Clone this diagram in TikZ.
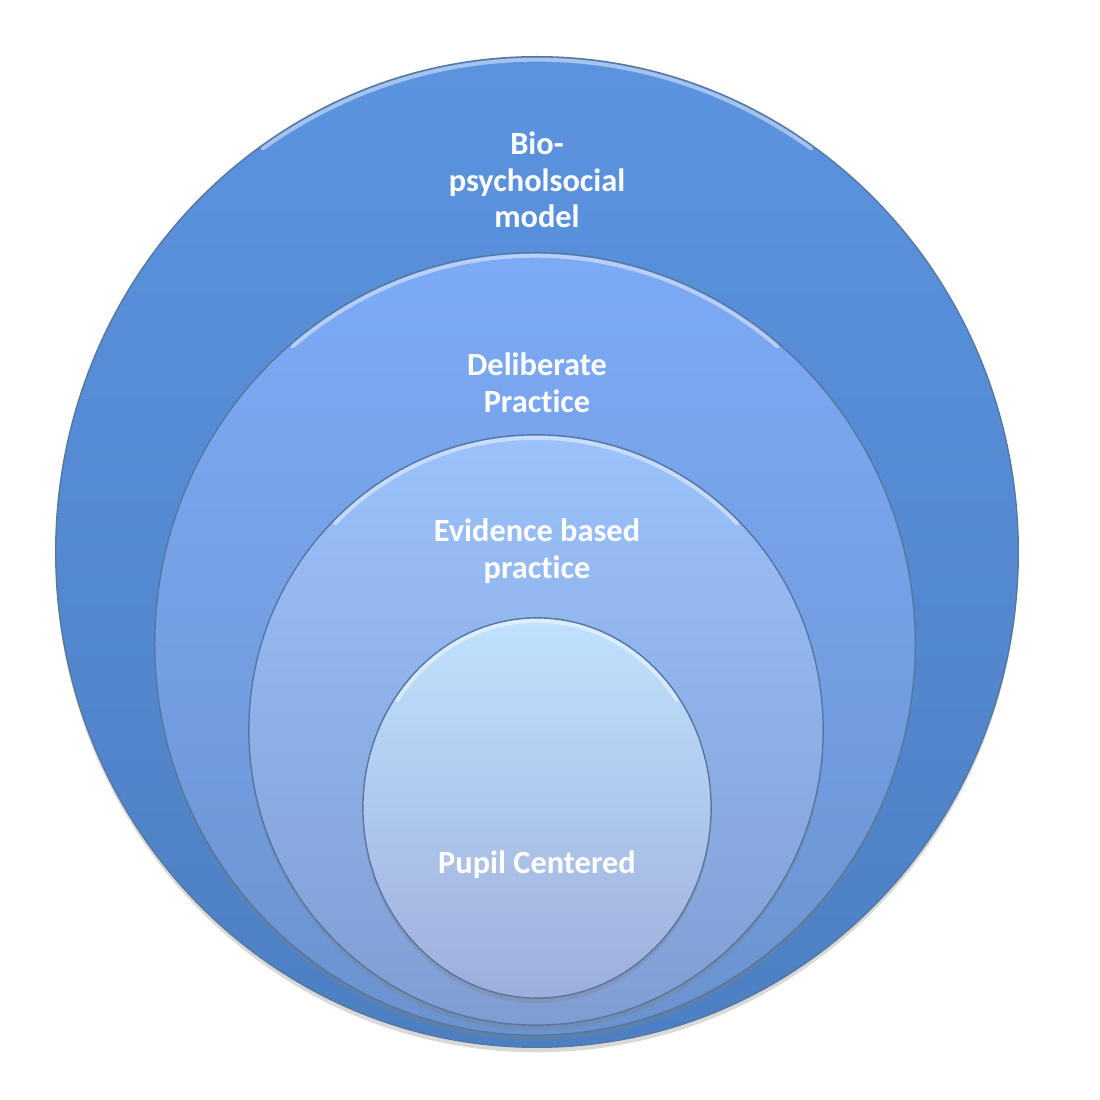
\documentclass[tikz,border=0pt]{standalone}
\usepackage{fontspec}
\setmainfont{Carlito}[Ligatures=NoCommon]
\usetikzlibrary{shapes.geometric,shadows}

\definecolor{bioTop}{HTML}{5C93E0}
\definecolor{bioBot}{HTML}{4C80C3}
\definecolor{delTop}{HTML}{7DAAF6}
\definecolor{delBot}{HTML}{6A93CF}
\definecolor{eviTop}{HTML}{9BC2FB}
\definecolor{eviBot}{HTML}{809DD3}
\definecolor{pupTop}{HTML}{C0E2FD}
\definecolor{pupBot}{HTML}{9EAEDC}
\definecolor{rimblue}{HTML}{56779F}

\begin{document}
\begin{tikzpicture}[x=0.01cm, y=0.01cm, outer sep=0pt]

\tikzstyle{ring}=[ellipse, draw=rimblue, line width=0.4pt, inner sep=0pt, drop shadow={shadow xshift=0pt, shadow yshift=-0.5mm, opacity=0.3}]
\tikzstyle{glint}=[white, opacity=0.45, line width=1.1pt, line cap=round]
\tikzstyle{caption}=[text=white, font=\bfseries\fontsize{9.2}{10.4}\selectfont, align=center]

\useasboundingbox (0,0) rectangle (1100,1100);

\node[ring, minimum width=9.62cm, minimum height=9.90cm, top color=bioTop, bottom color=bioBot] (bio) at (537,548) {};
\node[ring, minimum width=7.60cm, minimum height=7.82cm, top color=delTop, bottom color=delBot] (del) at (535,456) {};
\node[ring, minimum width=5.74cm, minimum height=5.90cm, top color=eviTop, bottom color=eviBot] (evi) at (536,370) {};
\node[ring, minimum width=3.48cm, minimum height=3.80cm, top color=pupTop, bottom color=pupBot] (pup) at (537,292) {};

\draw[glint] ([shift={(125:4.78cm and 4.92cm)}]bio.center) arc[start angle=125, end angle=55, x radius=4.78cm, y radius=4.92cm];
\draw[glint] ([shift={(130:3.77cm and 3.88cm)}]del.center) arc[start angle=130, end angle=50, x radius=3.77cm, y radius=3.88cm];
\draw[glint] ([shift={(135:2.84cm and 2.92cm)}]evi.center) arc[start angle=135, end angle=45, x radius=2.84cm, y radius=2.92cm];
\draw[glint] ([shift={(145:1.71cm and 1.87cm)}]pup.center) arc[start angle=145, end angle=35, x radius=1.71cm, y radius=1.87cm];

\node[caption] (bioText) at (537,920) {Bio-\\psycholsocial\\model};
\node[caption] (delText) at (537,717) {Deliberate\\Practice};
\node[caption] (eviText) at (537,549) {Evidence based\\practice};
\node[caption] (pupText) at (537,235) {Pupil Centered};

\end{tikzpicture}
\end{document}
